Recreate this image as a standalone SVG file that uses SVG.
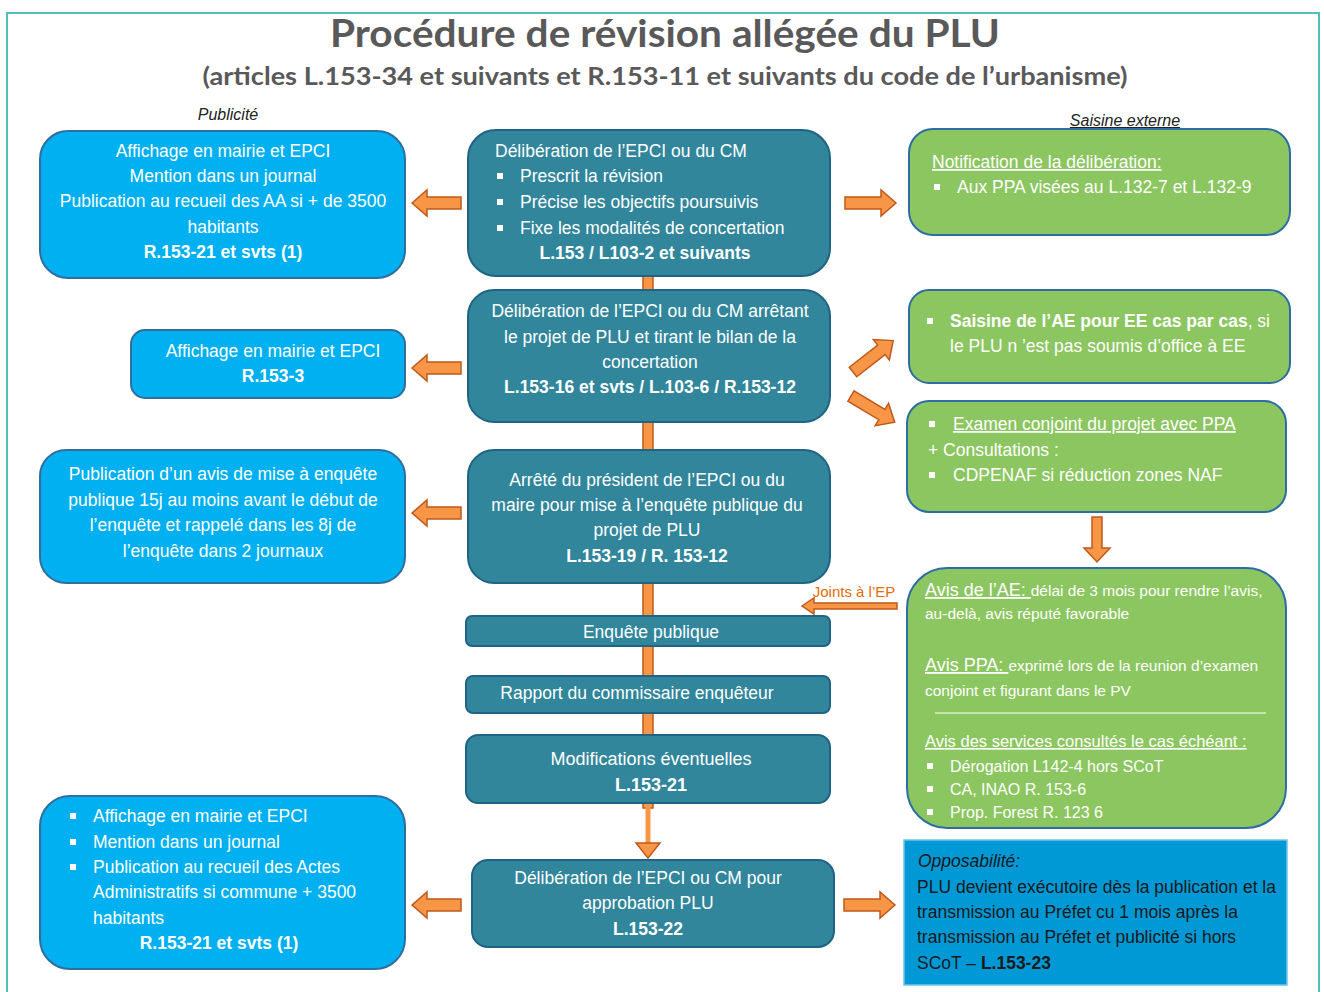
<svg xmlns="http://www.w3.org/2000/svg" width="1324" height="992" viewBox="0 0 1324 992">
<style>
.t{font-family:"Liberation Sans",Arial,sans-serif;font-size:17.5px;fill:#fff}
.c{text-anchor:middle}
.b{font-weight:bold}
.u{text-decoration:underline}
.s{font-size:15.5px}
.blue{fill:#00B0F0;stroke:#2F6E9E;stroke-width:2}
.teal{fill:#31869B;stroke:#1F6385;stroke-width:2}
.green{fill:#8BC660;stroke:#2E6DA4;stroke-width:2}
.arr{fill:#F79646;stroke:#C0591A;stroke-width:1.5}
.bul{fill:#fff}
</style>
<defs>
<path id="la" d="M0,0 l15,-13 v7 h34 v12 h-34 v7 z"/>
<path id="ra" d="M0,-6 h36 v-7 l15,13 l-15,13 v-7 h-36 z"/>
</defs>
<rect width="1324" height="992" fill="#fff"/>
<rect x="7" y="13" width="1312" height="990" fill="none" stroke="#4FC1BC" stroke-width="2"/>
<g id="title">
<text x="665" y="47" text-anchor="middle" font-family="Lato,'Open Sans',sans-serif" font-weight="bold" font-size="38" fill="#595959" textLength="670" lengthAdjust="spacingAndGlyphs">Procédure de révision allégée du PLU</text>
<text x="665" y="85" text-anchor="middle" font-family="Lato,'Open Sans',sans-serif" font-weight="bold" font-size="25" fill="#595959" textLength="925" lengthAdjust="spacingAndGlyphs">(articles L.153-34 et suivants et R.153-11 et suivants du code de l’urbanisme)</text>
<text x="228" y="120" text-anchor="middle" font-family="'Liberation Sans',Arial,sans-serif" font-style="italic" font-size="16" fill="#222">Publicité</text>
<text x="1125" y="126" text-anchor="middle" font-family="'Liberation Sans',Arial,sans-serif" font-style="italic" font-size="16" fill="#222" text-decoration="underline">Saisine externe</text>
</g>
<g id="connectors">
<rect x="643" y="274" width="10" height="534" class="arr"/>
<line x1="648" y1="803" x2="648" y2="845" stroke="#F79646" stroke-width="5"/>
<path d="M636,843 h24 l-12,15 z" class="arr"/>
<use href="#la" x="412" y="203" class="arr"/>
<use href="#la" x="412" y="368" class="arr"/>
<use href="#la" x="412" y="513" class="arr"/>
<use href="#la" x="412" y="905" class="arr"/>
<use href="#ra" x="845" y="203" class="arr"/>
<use href="#ra" x="844" y="905" class="arr"/>
<use href="#ra" transform="translate(853,372) rotate(-38)" class="arr"/>
<use href="#ra" transform="translate(851,396) rotate(31)" class="arr"/>
<path d="M1092,517 h10 v31 h8 l-13,14 l-13,-14 h8 z" class="arr"/>
<path d="M802,606 l12,-8 v5 h83 v6 h-83 v5 z" class="arr"/>
<text x="854" y="597" text-anchor="middle" font-family="'Liberation Sans',Arial,sans-serif" font-size="15" fill="#E46C0A">Joints à l’EP</text>
</g>
<g id="L1">
<rect x="40" y="131" width="365" height="147" rx="28" class="blue"/>
<text class="t c" x="223" y="157">Affichage en mairie et EPCI</text>
<text class="t c" x="223" y="182">Mention dans un journal</text>
<text class="t c" x="223" y="207">Publication au recueil des AA si + de 3500</text>
<text class="t c" x="223" y="233">habitants</text>
<text class="t c b" x="223" y="258">R.153-21 et svts (1)</text>
</g>
<g id="L2">
<rect x="131" y="330" width="274" height="68" rx="14" class="blue"/>
<text class="t c" x="273" y="357">Affichage en mairie et EPCI</text>
<text class="t c b" x="273" y="382">R.153-3</text>
</g>
<g id="L3">
<rect x="40" y="450" width="365" height="133" rx="26" class="blue"/>
<text class="t c" x="223" y="480">Publication d’un avis de mise à enquête</text>
<text class="t c" x="223" y="506">publique 15j au moins avant le début de</text>
<text class="t c" x="223" y="531">l’enquête et rappelé dans les 8j de</text>
<text class="t c" x="223" y="557">l’enquête dans 2 journaux</text>
</g>
<g id="L4">
<rect x="40" y="796" width="365" height="173" rx="30" class="blue"/>
<rect class="bul" x="70" y="813" width="6" height="6"/>
<rect class="bul" x="70" y="839" width="6" height="6"/>
<rect class="bul" x="70" y="864" width="6" height="6"/>
<text class="t" x="93" y="822">Affichage en mairie et EPCI</text>
<text class="t" x="93" y="848">Mention dans un journal</text>
<text class="t" x="93" y="873">Publication au recueil des Actes</text>
<text class="t" x="93" y="898">Administratifs si commune + 3500</text>
<text class="t" x="93" y="924">habitants</text>
<text class="t c b" x="219" y="949">R.153-21 et svts (1)</text>
</g>
<g id="C1">
<rect x="468" y="130" width="362" height="146" rx="28" class="teal"/>
<text class="t" x="495" y="157">Délibération de l’EPCI ou du CM</text>
<rect class="bul" x="497" y="173" width="6" height="6"/>
<rect class="bul" x="497" y="199" width="6" height="6"/>
<rect class="bul" x="497" y="225" width="6" height="6"/>
<text class="t" x="520" y="182">Prescrit la révision</text>
<text class="t" x="520" y="208">Précise les objectifs poursuivis</text>
<text class="t" x="520" y="234">Fixe les modalités de concertation</text>
<text class="t c b" x="645" y="259">L.153 / L103-2 et suivants</text>
</g>
<g id="C2">
<rect x="468" y="290" width="362" height="132" rx="26" class="teal"/>
<text class="t c" x="650" y="317">Délibération de l’EPCI ou du CM arrêtant</text>
<text class="t c" x="650" y="343">le projet de PLU et tirant le bilan de la</text>
<text class="t c" x="650" y="368">concertation</text>
<text class="t c b" x="650" y="393">L.153-16 et svts / L.103-6 / R.153-12</text>
</g>
<g id="C3">
<rect x="468" y="450" width="362" height="133" rx="26" class="teal"/>
<text class="t c" x="647" y="486">Arrêté du président de l’EPCI ou du</text>
<text class="t c" x="647" y="511">maire pour mise à l’enquête publique du</text>
<text class="t c" x="647" y="536">projet de PLU</text>
<text class="t c b" x="647" y="562">L.153-19 / R. 153-12</text>
</g>
<g id="C4">
<rect x="466" y="616" width="364" height="30" rx="6" class="teal"/>
<text class="t c" x="651" y="638">Enquête publique</text>
</g>
<g id="C5">
<rect x="466" y="676" width="364" height="37" rx="7" class="teal"/>
<text class="t c" x="637" y="699">Rapport du commissaire enquêteur</text>
</g>
<g id="C6">
<rect x="466" y="735" width="364" height="68" rx="12" class="teal"/>
<text class="t c" x="651" y="765" style="font-size:18px">Modifications éventuelles</text>
<text class="t c b" x="651" y="791" style="font-size:18px">L.153-21</text>
</g>
<g id="C7">
<rect x="472" y="860" width="362" height="87" rx="16" class="teal"/>
<text class="t c" x="648" y="884">Délibération de l’EPCI ou CM pour</text>
<text class="t c" x="648" y="909">approbation PLU</text>
<text class="t c b" x="648" y="935">L.153-22</text>
</g>
<g id="R1">
<rect x="909" y="129" width="381" height="106" rx="24" class="green"/>
<text class="t u" x="932" y="168">Notification de la délibération:</text>
<rect class="bul" x="934" y="184" width="6" height="6"/>
<text class="t" x="957" y="193">Aux PPA visées au L.132-7 et L.132-9</text>
</g>
<g id="R2">
<rect x="909" y="290" width="381" height="93" rx="20" class="green"/>
<rect class="bul" x="927" y="318" width="6" height="6"/>
<text class="t" x="950" y="327"><tspan class="b">Saisine de l’AE pour EE cas par cas</tspan>, si</text>
<text class="t" x="950" y="352">le PLU n ’est pas soumis d’office à EE</text>
</g>
<g id="R3">
<rect x="907" y="401" width="379" height="111" rx="22" class="green"/>
<rect class="bul" x="929" y="421" width="6" height="6"/>
<text class="t u" x="953" y="430">Examen conjoint du projet avec PPA</text>
<text class="t" x="928" y="456">+ Consultations :</text>
<rect class="bul" x="929" y="472" width="6" height="6"/>
<text class="t" x="953" y="481">CDPENAF si réduction zones NAF</text>
</g>
<g id="R4">
<rect x="907" y="568" width="379" height="260" rx="40" class="green"/>
<text class="t" x="925" y="596"><tspan class="u" style="font-size:18px">Avis de l’AE: </tspan><tspan class="s">délai de 3 mois pour rendre l’avis,</tspan></text>
<text class="t s" x="925" y="619">au-delà, avis réputé favorable</text>
<text class="t" x="925" y="671"><tspan class="u" style="font-size:18px">Avis PPA: </tspan><tspan class="s">exprimé lors de la reunion d’examen</tspan></text>
<text class="t s" x="925" y="696">conjoint et figurant dans le PV</text>
<line x1="935" y1="713" x2="1266" y2="713" stroke="#fff" stroke-width="1.2"/>
<text class="t u" x="925" y="747" style="font-size:16.5px">Avis des services consultés le cas échéant :</text>
<rect class="bul" x="927" y="763" width="6" height="6"/>
<rect class="bul" x="927" y="786" width="6" height="6"/>
<rect class="bul" x="927" y="809" width="6" height="6"/>
<text class="t" x="950" y="772" style="font-size:16px">Dérogation L142-4 hors SCoT</text>
<text class="t" x="950" y="795" style="font-size:16px">CA, INAO R. 153-6</text>
<text class="t" x="950" y="818" style="font-size:16px">Prop. Forest R. 123 6</text>
</g>
<g id="R5">
<rect x="904" y="840" width="383" height="145" fill="#0099D6" stroke="#6CC6EC" stroke-width="1.5"/>
<text class="t" x="918" y="867" style="fill:#1a1a1a;font-style:italic">Opposabilité:</text>
<text class="t" x="917" y="893" style="fill:#1a1a1a">PLU devient exécutoire dès la publication et la</text>
<text class="t" x="917" y="918" style="fill:#1a1a1a">transmission au Préfet cu 1 mois après la</text>
<text class="t" x="917" y="943" style="fill:#1a1a1a">transmission au Préfet et publicité si hors</text>
<text class="t" x="917" y="969" style="fill:#1a1a1a">SCoT – <tspan class="b">L.153-23</tspan></text>
</g>
</svg>
